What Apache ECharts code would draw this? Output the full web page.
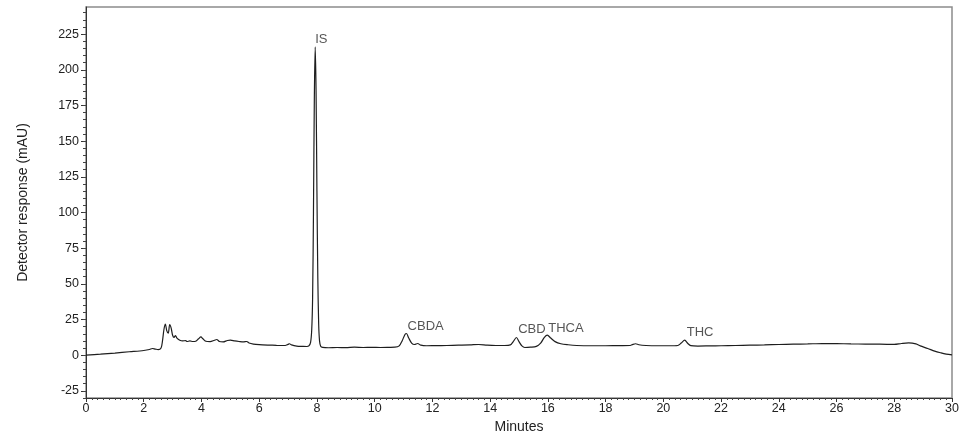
<!DOCTYPE html>
<html>
<head>
<meta charset="utf-8">
<script src="https://cdn.jsdelivr.net/npm/echarts@6/dist/echarts.min.js"></script>
<style>html,body{margin:0;padding:0;background:#fff}#c{width:961px;height:434px}</style>
</head>
<body>
<div id="c"></div>
<script>
// Chromatogram trace (time in minutes, response in mAU)
var times = [0,0.5,1.0,1.5,2.0,2.2,2.3,2.4,2.5,2.6,2.65,2.7,2.75,2.8,2.85,2.9,2.95,3.0,3.05,3.1,3.15,3.25,3.35,3.45,3.5,3.6,3.7,3.8,3.9,3.98,4.05,4.15,4.3,4.45,4.53,4.62,4.75,4.9,5.0,5.15,5.3,5.45,5.57,5.65,5.8,6.0,6.3,6.6,6.9,7.0,7.05,7.12,7.3,7.5,7.65,7.72,7.78,7.82,7.85,7.88,7.91,7.94,7.97,8.0,8.03,8.06,8.09,8.13,8.2,8.4,8.7,9.0,9.3,9.6,9.9,10.2,10.5,10.7,10.85,10.95,11.05,11.1,11.18,11.28,11.38,11.49,11.6,11.8,12.1,12.5,12.9,13.3,13.6,13.9,14.2,14.5,14.7,14.8,14.91,15.0,15.1,15.2,15.4,15.6,15.75,15.88,15.98,16.1,16.25,16.45,16.7,17.0,17.5,18.0,18.5,18.85,18.95,19.04,19.15,19.4,19.8,20.2,20.5,20.62,20.74,20.85,20.95,21.2,21.6,22.0,22.5,23.0,23.5,24.0,24.5,25.0,25.5,26.0,26.5,27.0,27.5,28.0,28.25,28.5,28.75,28.9,29.16,29.4,29.62,29.8,30.0];
var response = [0.0,0.7,1.5,2.4,3.3,4.0,4.7,4.3,3.9,5.0,10,18,21.7,17,15.5,21.5,19,14,12.5,13.8,12,10.5,10,10.2,9.6,10,9.6,9.8,11.5,12.8,11.5,9.8,9.5,10.5,11,9.6,9.3,10.3,10.5,10,9.6,9.3,9.6,8.5,7.8,7.4,7.1,6.9,6.8,7.6,8.0,7.2,6.4,6.2,6.1,6.5,9,18,40,100,180,216,185,115,55,22,10,6.3,5.5,5.2,5.4,5.3,5.6,5.4,5.5,5.4,5.5,5.6,6.5,10,14.5,15.2,12,8.5,7.5,8.2,7.0,6.6,6.7,6.8,7.0,7.2,7.5,7.0,6.8,6.8,7.2,9.5,12.4,9.5,6.5,5.4,5.6,6.2,8.5,12.5,14,12,9.5,8,7.3,6.8,6.6,6.6,6.7,6.8,7.6,8,7.3,6.8,6.6,6.6,6.8,8.5,10.5,8.2,6.7,6.4,6.5,6.6,6.8,7.0,7.2,7.5,7.7,7.9,8.2,8.1,7.9,7.8,7.7,7.6,8.2,8.6,7.9,6.5,4.7,2.8,1.6,0.8,0.2];

// Peak annotations: label text and anchor (minutes, mAU)
var peakNames = ['IS','CBDA','CBD','THCA','THC'];
var peakTimes = [7.94, 11.14, 14.97, 16.01, 20.81];
var peakLabelY = [221.5, 20.5, 17.9, 19.1, 16.1];

// Axis ticks
var yTickLabels = [-25,0,25,50,75,100,125,150,175,200,225];
var yMinorTicks = [-30,-25,-20,-15,-10,-5,0,5,10,15,20,25,30,35,40,45,50,55,60,65,70,75,80,85,90,95,100,105,110,115,120,125,130,135,140,145,150,155,160,165,170,175,180,185,190,195,200,205,210,215,220,225,230,235,240];

var trace = times.map(function(t, i){ return [t, response[i]]; });
var labels = peakNames.map(function(n, i){ return {name: n, value: [peakTimes[i], peakLabelY[i]]}; });

var chart = echarts.init(document.getElementById('c'), null, {renderer: 'canvas'});
var font = 'Liberation Sans, Arial, sans-serif';
chart.setOption({
  animation: false,
  backgroundColor: '#fff',
  grid: {left: 86, right: 9, top: 7, bottom: 36, outerBoundsMode: 'none', containLabel: false,
         show: true, borderColor: '#8c8c8c', borderWidth: 1.5, backgroundColor: 'transparent'},
  xAxis: {
    type: 'value', min: 0, max: 30, interval: 2,
    name: 'Minutes', nameLocation: 'middle', nameGap: 17,
    nameTextStyle: {fontFamily: font, fontSize: 14, color: '#222'},
    axisLine: {show: true, onZero: false, lineStyle: {color: '#333', width: 1}},
    axisTick: {show: true, length: 4, lineStyle: {color: '#333'}},
    minorTick: {show: true, splitNumber: 10, length: 2, lineStyle: {color: '#444'}},
    axisLabel: {fontFamily: font, fontSize: 12.5, color: '#222', margin: 4},
    splitLine: {show: false}
  },
  yAxis: [{
    type: 'value', min: -30, max: 244,
    name: 'Detector response (mAU)', nameLocation: 'middle', nameGap: 56,
    nameTextStyle: {fontFamily: font, fontSize: 14, color: '#222'},
    axisLine: {show: true, onZero: false, lineStyle: {color: '#333', width: 1}},
    axisTick: {show: true, length: 5, customValues: yTickLabels, lineStyle: {color: '#333'}},
    axisLabel: {fontFamily: font, fontSize: 12.5, color: '#222', margin: 7, customValues: yTickLabels},
    splitLine: {show: false}
  }, {
    type: 'value', min: -30, max: 244, position: 'left',
    axisLine: {show: false},
    axisTick: {show: true, length: 3, customValues: yMinorTicks, lineStyle: {color: '#444'}},
    axisLabel: {show: false, customValues: yMinorTicks},
    splitLine: {show: false}
  }],
  series: [{
    type: 'line', data: trace, yAxisIndex: 0, showSymbol: false, symbol: 'none',
    smooth: 0.3, lineStyle: {color: '#1e1e1e', width: 1.2}
  }, {
    type: 'scatter', data: labels, yAxisIndex: 0, symbolSize: 0.1, silent: true,
    label: {show: true, position: 'right', distance: 0, formatter: '{b}', fontFamily: font, fontSize: 13, color: '#2b2b2b'}
  }]
});
</script>
</body>
</html>
